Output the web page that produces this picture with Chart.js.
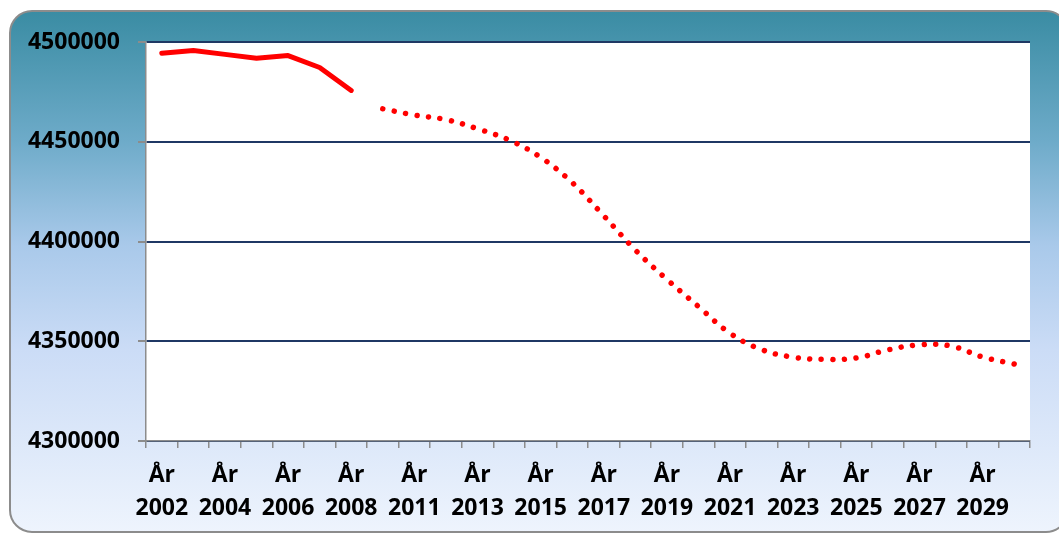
<!DOCTYPE html>
<html>
<head>
<meta charset="utf-8">
<script src="https://cdn.jsdelivr.net/npm/chart.js@4/dist/chart.umd.min.js"></script>
<style>
  body { margin: 0; background: #fff; }
</style>
</head>
<body>
<canvas id="chart" width="1059" height="534"></canvas>
<script>
const years = [
  "2002", "2003", "2004", "2005", "2006", "2007", "2008", "2010",
  "2011", "2012", "2013", "2014", "2015", "2016", "2017", "2018",
  "2019", "2020", "2021", "2022", "2023", "2024", "2025", "2026",
  "2027", "2028", "2029", "2030"
];
const observed = [
  4494400, 4495700, 4493800, 4491900, 4493200, 4487200, 4475700,
  null, null, null, null, null, null, null, null, null, null, null,
  null, null, null, null, null, null, null, null, null, null
];
const projected = [
  null, null, null, null, null, null, null,
  4466500, 4463400, 4461100, 4456500, 4450900, 4442200, 4429500,
  4412900, 4395700, 4381000, 4367400, 4354000, 4345800, 4342000,
  4340900, 4341600, 4345700, 4348200, 4347600, 4342100, 4338600
];
const yTicks = [4300000, 4350000, 4400000, 4450000, 4500000];

const labelFont = { family: "'Open Sans', sans-serif", size: 23, weight: "bold", lineHeight: 1.43 };
const gray = "#8c8c8c";

// box with gradient behind everything, white plot area
const backdrop = {
  id: "backdrop",
  beforeDraw(chart) {
    const ctx = chart.ctx;
    const a = chart.chartArea;
    ctx.save();
    const g = ctx.createLinearGradient(0, 11, 0, 532);
    g.addColorStop(0, "#3a8ca3");
    g.addColorStop(0.25, "#6eabc9");
    g.addColorStop(0.45, "#a9c9ea");
    g.addColorStop(0.65, "#cbdcf6");
    g.addColorStop(1, "#eef4fd");
    ctx.beginPath();
    ctx.roundRect(10, 11, 1058, 521, 22);
    ctx.fillStyle = g;
    ctx.fill();
    ctx.lineWidth = 2;
    ctx.strokeStyle = gray;
    ctx.stroke();
    ctx.fillStyle = "#ffffff";
    ctx.fillRect(a.left, a.top, a.right - a.left, a.bottom - a.top);
    ctx.restore();
  }
};

new Chart(document.getElementById("chart"), {
  type: "line",
  data: {
    labels: years,
    datasets: [
      {
        data: observed,
        borderColor: "#ff0000",
        borderWidth: 5,
        borderCapStyle: "round",
        borderJoinStyle: "round",
        pointRadius: 0,
        tension: 0
      },
      {
        data: projected,
        borderColor: "#ff0000",
        borderWidth: 5.5,
        borderCapStyle: "round",
        borderDash: [0.001, 11.6],
        pointRadius: 0,
        tension: 0.4
      }
    ]
  },
  options: {
    responsive: false,
    animation: false,
    layout: { padding: { top: 42, right: 29, left: 0, bottom: 0 } },
    plugins: {
      legend: { display: false },
      tooltip: { enabled: false }
    },
    scales: {
      x: {
        offset: true,
        afterFit: (s) => { s.height = 93; },
        grid: { drawOnChartArea: false, tickLength: 7, tickColor: gray, lineWidth: 1.5, offset: true },
        border: { color: gray, width: 1.5 },
        ticks: {
          autoSkip: false,
          maxRotation: 0,
          padding: 11,
          color: "#000",
          font: labelFont,
          callback: (v, i) => (i % 2 === 0 ? ["År", years[i]] : "")
        }
      },
      y: {
        min: 4300000,
        max: 4500000,
        afterFit: (s) => { s.width = 146; },
        afterBuildTicks: (s) => { s.ticks = yTicks.map((v) => ({ value: v })); },
        grid: { color: "#1f3864", lineWidth: 2, tickColor: gray, tickLength: 8 },
        border: { color: gray, width: 1.5 },
        ticks: {
          padding: 18,
          color: "#000",
          font: labelFont,
          callback: (v) => String(v)
        }
      }
    }
  },
  plugins: [backdrop]
});
</script>
</body>
</html>
